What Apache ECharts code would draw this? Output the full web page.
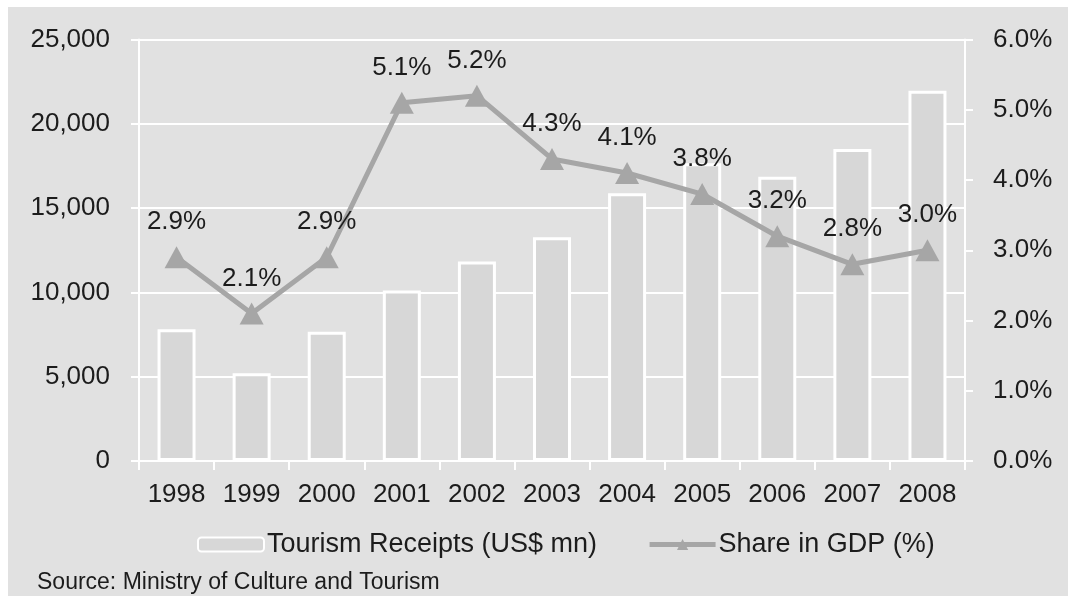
<!DOCTYPE html>
<html>
<head>
<meta charset="utf-8">
<script src="https://cdn.jsdelivr.net/npm/echarts@6/dist/echarts.min.js"></script>
<style>
  html, body { margin: 0; padding: 0; background: #ffffff; }
  #frame { position: absolute; left: 8px; top: 7px; width: 1060px; height: 589px; background: #e1e1e1; }
  #chart { position: absolute; left: -8px; top: -7px; width: 1068px; height: 596px; }
</style>
</head>
<body>
<div id="frame"><div id="chart"></div></div>
<script>
// Tourism receipts and their share of GDP, 1998-2008
const years = ['1998', '1999', '2000', '2001', '2002', '2003', '2004', '2005', '2006', '2007', '2008'];
const receipts = [7810, 5200, 7670, 10120, 11830, 13270, 15880, 17660, 16860, 18500, 21960];
const gdpShare = [2.9, 2.1, 2.9, 5.1, 5.2, 4.3, 4.1, 3.8, 3.2, 2.8, 3.0];

const FONT = 'Arial, "Liberation Sans", sans-serif';
const TEXT = '#1c1c1c';
const LINE_GREY = '#a6a6a6';

const chart = echarts.init(document.getElementById('chart'), null, { renderer: 'canvas' });

chart.setOption({
  backgroundColor: 'transparent',
  animation: false,
  textStyle: { fontFamily: FONT },
  title: {
    text: 'Source: Ministry of Culture and Tourism',
    left: 32,
    top: 566,
    textStyle: { fontFamily: FONT, fontSize: 23, fontWeight: 'normal', color: TEXT }
  },
  legend: {
    top: 526,
    left: 192,
    itemGap: 50,
    itemWidth: 66,
    itemHeight: 14,
    textStyle: { fontFamily: FONT, fontSize: 27, color: TEXT, padding: [0, 0, 0, -2] },
    data: [
      { name: 'Tourism Receipts (US$ mn)' },
      {
        name: 'Share in GDP (%)',
        lineStyle: { color: LINE_GREY, width: 5 },
        itemStyle: { color: LINE_GREY }
      }
    ]
  },
  grid: { left: 139, right: 103, top: 39.5, bottom: 135 },
  xAxis: {
    type: 'category',
    data: years,
    boundaryGap: true,
    axisLine: { show: true, lineStyle: { color: '#ffffff', width: 2 } },
    axisTick: { show: true, interval: 0, length: 9, lineStyle: { color: '#ffffff', width: 2 } },
    axisLabel: { interval: 0, fontFamily: FONT, fontSize: 26, color: TEXT, margin: 21 }
  },
  yAxis: [
    {
      type: 'value',
      min: 0, max: 25000, interval: 5000,
      axisLine: { show: true, lineStyle: { color: '#ffffff', width: 2 } },
      axisTick: { show: true, length: 8, lineStyle: { color: '#ffffff', width: 2 } },
      splitLine: { show: true, lineStyle: { color: '#ffffff', width: 2 } },
      axisLabel: {
        fontFamily: FONT, fontSize: 26, color: TEXT, margin: 29,
        formatter: v => v.toLocaleString('en-US')
      }
    },
    {
      type: 'value',
      min: 0, max: 6, interval: 1,
      position: 'right',
      axisLine: { show: true, lineStyle: { color: '#ffffff', width: 2 } },
      axisTick: { show: true, length: 8, lineStyle: { color: '#ffffff', width: 2 } },
      splitLine: { show: false },
      axisLabel: {
        fontFamily: FONT, fontSize: 26, color: TEXT, margin: 28,
        formatter: v => v.toFixed(1) + '%'
      }
    }
  ],
  series: [
    {
      name: 'Tourism Receipts (US$ mn)',
      type: 'bar',
      yAxisIndex: 0,
      data: receipts,
      barWidth: 38,
      itemStyle: { color: '#d7d7d7', borderColor: '#ffffff', borderWidth: 3 },
      z: 2
    },
    {
      name: 'Share in GDP (%)',
      type: 'line',
      yAxisIndex: 1,
      data: gdpShare,
      symbol: 'triangle',
      symbolSize: [24, 22],
      lineStyle: { color: LINE_GREY, width: 5 },
      itemStyle: { color: LINE_GREY },
      label: {
        show: true,
        position: 'top',
        distance: 11,
        fontFamily: FONT,
        fontSize: 26,
        color: TEXT,
        formatter: p => p.value.toFixed(1) + '%'
      },
      z: 5
    }
  ]
});
</script>
</body>
</html>
